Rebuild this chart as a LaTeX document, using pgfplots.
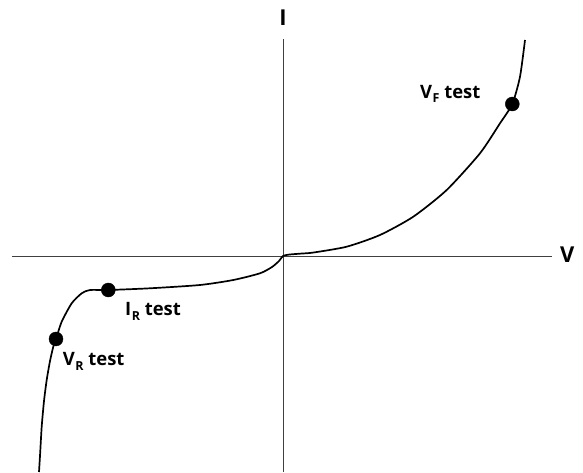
\documentclass[border=0pt]{standalone}
\usepackage{pgfplots}
\pgfplotsset{compat=1.18}
\usepackage{fontspec}
\setmainfont{Open Sans}
\newcommand{\sub}[1]{\kern0.5pt\raisebox{-0.42ex}{\fontsize{12.5}{12.5}\selectfont #1}}
\begin{document}
\begin{tikzpicture}
\begin{axis}[
  x=1bp, y=1bp,
  xmin=-271, xmax=269, ymin=-216, ymax=217,
  axis lines=middle,
  axis line style={-, line width=0.8bp, black!75},
  xtick=\empty, ytick=\empty,
  clip=false,
  font=\bfseries,
]
\path (axis cs:-283,256) rectangle (axis cs:300,-216);
\addplot[line width=1.7bp, black, smooth, tension=0.4] coordinates {
(-244,-216) (-243,-200) (-241.3,-170.7) (-239,-145) (-236.3,-124) (-233,-105) (-229.7,-90.7) (-227,-83)
(-221.3,-65.7) (-211.3,-47.3) (-201.3,-37.3) (-193,-34) (-174.7,-34)
(-133,-32.3) (-83,-29) (-49.7,-24) (-23,-17.3) (-11,-11) (-4,-5) (0,0)
(6,1.4) (18,2.4) (30,3.4) (63.7,9.3) (97,21) (130.3,39.3) (163.7,66) (197,102.7) (217,132.7)
(229.3,152) (237,179.3) (242,216)
};
\addplot[only marks, mark=*, mark size=7bp, black] coordinates {
(-227,-83) (-174.7,-34) (229.3,152)
};
\node[anchor=base, font=\fontsize{22}{22}\selectfont\bfseries] at (axis cs:0,230) {I};
\node[anchor=base west, inner sep=0pt, font=\fontsize{22}{22}\selectfont\bfseries] at (axis cs:277,-7) {V};
\node[anchor=base west, inner sep=0pt, font=\fontsize{18.5}{18.5}\selectfont\bfseries] at (axis cs:137,157.7) {V\sub{F} test};
\node[anchor=base west, inner sep=0pt, font=\fontsize{18.5}{18.5}\selectfont\bfseries] at (axis cs:-158,-60) {I\sub{R} test};
\node[anchor=base west, inner sep=0pt, font=\fontsize{18.5}{18.5}\selectfont\bfseries] at (axis cs:-220.3,-110) {V\sub{R} test};
\end{axis}
\end{tikzpicture}
\end{document}
